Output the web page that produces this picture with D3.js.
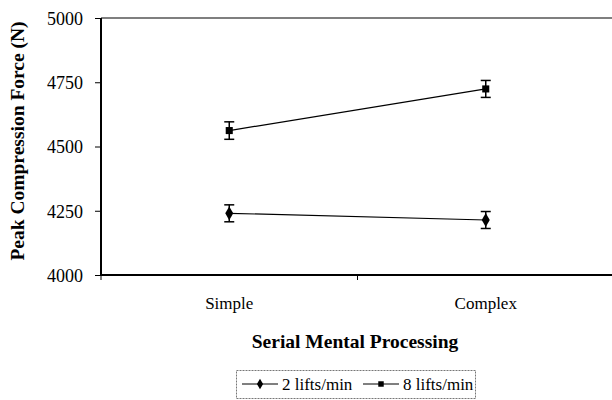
<!DOCTYPE html>
<html>
<head>
<meta charset="utf-8">
<script src="https://cdn.jsdelivr.net/npm/d3@7"></script>
<style>
  body { margin: 0; background: #fff; }
  svg { display: block; }
</style>
</head>
<body>
<div id="chart"></div>
<script>
// chart data
var categories = ["Simple", "Complex"];
var seriesNames = ["2 lifts/min", "8 lifts/min"];
var lifts2 = [4240, 4214];
var lifts8 = [4562, 4724];
var err2 = [33, 33];
var err8 = [34, 33];
var yTicks = [4000, 4250, 4500, 4750, 5000];

var serif = "'Liberation Serif', 'Times New Roman', serif";
var svgWidth = 612, svgHeight = 400;
var margin = {top: 18, right: -2, bottom: 125, left: 101};
var width = svgWidth - margin.left - margin.right;
var height = svgHeight - margin.top - margin.bottom;

var svg = d3.select("#chart").append("svg").attr("width", svgWidth).attr("height", svgHeight)
  .attr("font-family", serif);
var g = svg.append("g").attr("transform", `translate(${margin.left}, ${margin.top})`);

var x = d3.scaleBand().domain(categories).range([0, width]).padding(0);
var y = d3.scaleLinear().domain([4000, 5000]).range([height, 0]);

// top frame line
g.append("line").attr("x1", 0).attr("x2", width).attr("y1", 0).attr("y2", 0)
  .attr("stroke", "#555").attr("stroke-width", 1.5);

// y axis
var yAxis = g.append("g").call(d3.axisLeft(y).tickValues(yTicks).tickSize(6).tickPadding(12).tickFormat(d3.format("d")));
yAxis.attr("font-family", serif);
yAxis.select(".domain").attr("stroke", "#000").attr("stroke-width", 2).attr("d", `M0,0V${height}`);
yAxis.selectAll(".tick line").attr("stroke", "#000");
yAxis.selectAll(".tick text").attr("font-family", serif).style("font-size", "18px").attr("dy", "0.35em");

// x axis, ticks at band edges
var xAxis = g.append("g").attr("transform", `translate(0, ${height})`);
xAxis.append("line").attr("x1", 0).attr("x2", width).attr("stroke", "#000").attr("stroke-width", 2);
var edges = [0].concat(categories.map(c => x(c) + x.bandwidth()));
xAxis.selectAll(".edge").data(edges).enter().append("line")
  .attr("x1", d => d).attr("x2", d => d).attr("y1", 0).attr("y2", 5)
  .attr("stroke", "#000").attr("stroke-width", 1);
xAxis.selectAll(".cat").data(categories).enter().append("text")
  .attr("x", d => x(d) + x.bandwidth() / 2).attr("y", 34)
  .attr("text-anchor", "middle").attr("font-family", serif).style("font-size", "17px").text(d => d);

// axis titles
svg.append("text").attr("transform", "translate(24, 141) rotate(-90)")
  .attr("text-anchor", "middle").attr("font-family", serif)
  .style("font-size", "19.5px").style("font-weight", "bold")
  .text("Peak Compression Force (N)");
svg.append("text").attr("x", 355).attr("y", 348)
  .attr("text-anchor", "middle").attr("font-family", serif)
  .style("font-size", "19.5px").style("font-weight", "bold")
  .text("Serial Mental Processing");

var cx = d => x(d) + x.bandwidth() / 2;
var series = [
  {name: seriesNames[0], values: lifts2, errs: err2, shape: d3.symbolDiamond, size: 55},
  {name: seriesNames[1], values: lifts8, errs: err8, shape: d3.symbolSquare, size: 50}
];

series.forEach(function(s) {
  var pts = categories.map((c, i) => ({c: c, v: s.values[i], e: s.errs[i]}));
  g.append("path").datum(pts)
    .attr("d", d3.line().x(d => cx(d.c)).y(d => y(d.v)))
    .attr("fill", "none").attr("stroke", "#000").attr("stroke-width", 1.2);
  var eb = g.selectAll(null).data(pts).enter().append("g");
  eb.append("line").attr("x1", d => cx(d.c)).attr("x2", d => cx(d.c))
    .attr("y1", d => y(d.v - d.e)).attr("y2", d => y(d.v + d.e)).attr("stroke", "#000").attr("stroke-width", 1.5);
  [-1, 1].forEach(function(sg) {
    eb.append("line").attr("x1", d => cx(d.c) - 5).attr("x2", d => cx(d.c) + 5)
      .attr("y1", d => y(d.v + sg * d.e)).attr("y2", d => y(d.v + sg * d.e))
      .attr("stroke", "#000").attr("stroke-width", 1.5);
  });
  eb.append("path").attr("d", d3.symbol().type(s.shape).size(s.size))
    .attr("transform", d => `translate(${cx(d.c)}, ${y(d.v)})`).attr("fill", "#000");
});

// legend
var lg = svg.append("g").attr("transform", "translate(236, 370)");
lg.append("rect").attr("x", 0.5).attr("y", 0.5).attr("width", 239).attr("height", 28)
  .attr("fill", "none").attr("stroke", "#777").attr("stroke-width", 1).attr("stroke-dasharray", "2,1");
var items = [{x: 6, s: series[0]}, {x: 127, s: series[1]}];
items.forEach(function(it) {
  lg.append("line").attr("x1", it.x).attr("x2", it.x + 36).attr("y1", 14).attr("y2", 14)
    .attr("stroke", "#000").attr("stroke-width", 1);
  lg.append("path").attr("d", d3.symbol().type(it.s.shape).size(it.s.size * 0.6))
    .attr("transform", `translate(${it.x + 18}, 14)`).attr("fill", "#000");
  lg.append("text").attr("x", it.x + 40).attr("y", 20).attr("font-family", serif)
    .style("font-size", "17px").text(it.s.name);
});
</script>
</body>
</html>
